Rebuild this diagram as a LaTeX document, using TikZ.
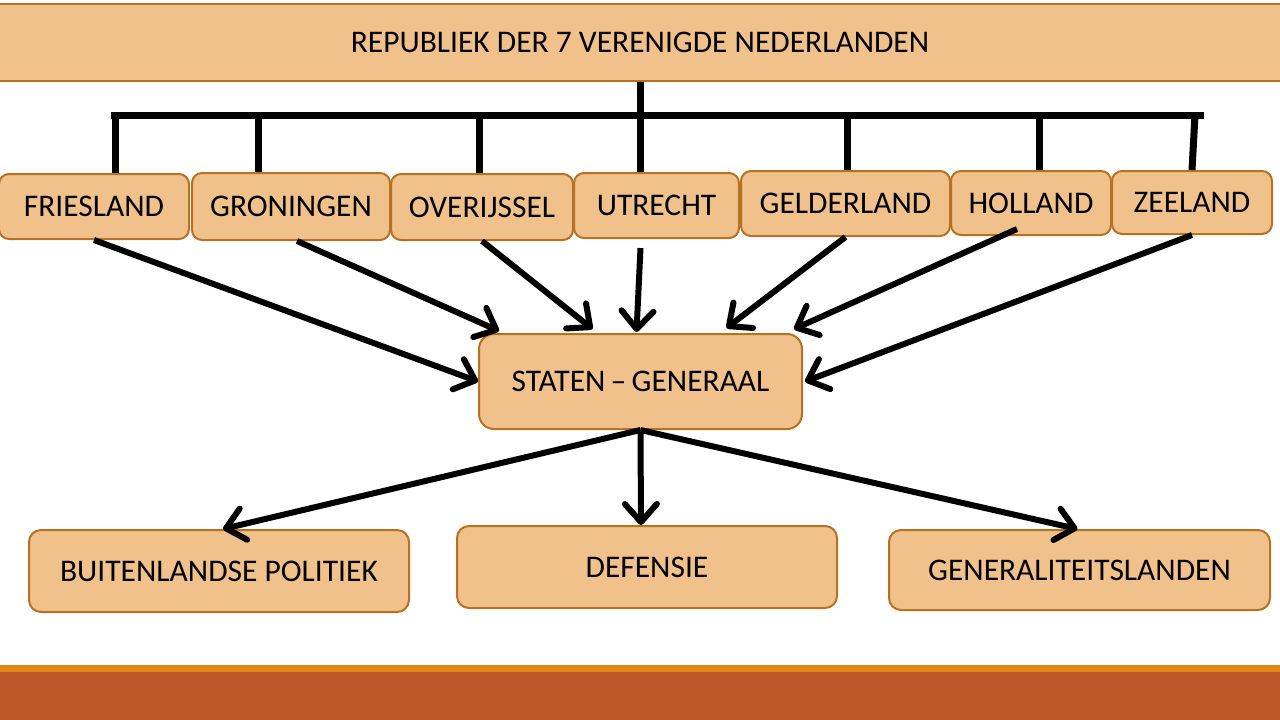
\documentclass[tikz,border=0pt]{standalone}
\usepackage{fontspec}
\setmainfont{Carlito}
\usetikzlibrary{arrows.meta}
\definecolor{boxfill}{RGB}{240,193,138}
\definecolor{boxline}{RGB}{183,113,35}
\definecolor{stripe}{RGB}{227,134,26}
\definecolor{band}{RGB}{190,88,43}

\begin{document}
\begin{tikzpicture}[x=1pt,y=-1pt,
    box/.style={draw=boxline, fill=boxfill, line width=2pt, rounded corners=10pt,
        inner sep=0pt, font=\fontsize{31.5}{36}\selectfont},
    bus/.style={black, line width=7pt},
    link/.style={black, line width=6pt, -{Straight Barb[length=18pt,width=32pt,round]}}]
       \useasboundingbox (0,0) rectangle (1280,720);
       \fill[band] (0,672) rectangle (1280,720);
       \fill[stripe] (0,665) rectangle (1280,672);

       \node[box, rounded corners=0pt, minimum width=1284pt, minimum height=77pt] (rep) at (640,42.5) {REPUBLIEK DER 7 VERENIGDE NEDERLANDEN};

       \node[box, minimum width=190pt, minimum height=65pt] (fries) at (94,206.5) {FRIESLAND};
       \node[box, minimum width=198pt, minimum height=67pt] (gron) at (291,206.5) {GRONINGEN};
       \node[box, minimum width=182pt, minimum height=66pt] (overij) at (482,207) {OVERIJSSEL};
       \node[box, minimum width=165pt, minimum height=65pt] (utr) at (656.5,205.5) {UTRECHT};
       \node[box, minimum width=209pt, minimum height=65pt] (geld) at (845.5,203.5) {GELDERLAND};
       \node[box, minimum width=160pt, minimum height=64pt] (holl) at (1031,203) {HOLLAND};
       \node[box, minimum width=160pt, minimum height=63pt] (zeel) at (1192,202.5) {ZEELAND};

       \node[box, rounded corners=15pt, minimum width=323pt, minimum height=95pt] (sg) at (640.5,381.5) {STATEN\,--\,GENERAAL};

       \node[box, rounded corners=12pt, minimum width=380pt, minimum height=82pt] (buit) at (219,571) {BUITENLANDSE POLITIEK};
       \node[box, rounded corners=12pt, minimum width=380pt, minimum height=82pt] (def) at (647,567) {DEFENSIE};
       \node[box, rounded corners=12pt, minimum width=381pt, minimum height=80pt] (gen) at (1079.5,570) {GENERALITEITSLANDEN};

       \coordinate (busL) at (111,115);
       \coordinate (busR) at (1204,115);
       \draw[bus] (busL) -- (busR);
       \draw[bus] (rep.south) -- (rep.south |- utr.north);
       \draw[bus] (115,115) -- (115,0 |- fries.north);
       \draw[bus] (258,115) -- (258,0 |- gron.north);
       \draw[bus] (479,115) -- (479,0 |- overij.north);
       \draw[bus] (847,115) -- (847,0 |- geld.north);
       \draw[bus] (1039,115) -- (1039,0 |- holl.north);
       \draw[bus] (1195,115) -- (1192,0 |- zeel.north);

       \draw[link] (fries.south) -- (sg.west);
       \draw[link] ([xshift=6pt]gron.south) -- ([xshift=21pt,yshift=2pt]sg.north west);
       \draw[link] (overij.south) -- ([xshift=-48pt,yshift=4pt]sg.north);
       \draw[link] ([xshift=-16pt,yshift=-9pt]utr.south) -- ([xshift=-4pt,yshift=1pt]sg.north);
       \draw[link] (geld.south) -- ([xshift=86pt,yshift=5pt]sg.north);
       \draw[link] ([xshift=-14pt,yshift=7pt]holl.south) -- ([xshift=-9pt,yshift=4pt]sg.north east);
       \draw[link] (zeel.south) -- ([xshift=2pt]sg.east);

       \draw[link] (sg.south) -- ([xshift=4pt]buit.north);
       \draw[link] (sg.south) -- ([xshift=-6pt]def.north);
       \draw[link] (sg.south) -- ([xshift=-2pt]gen.north);
\end{tikzpicture}
\end{document}
